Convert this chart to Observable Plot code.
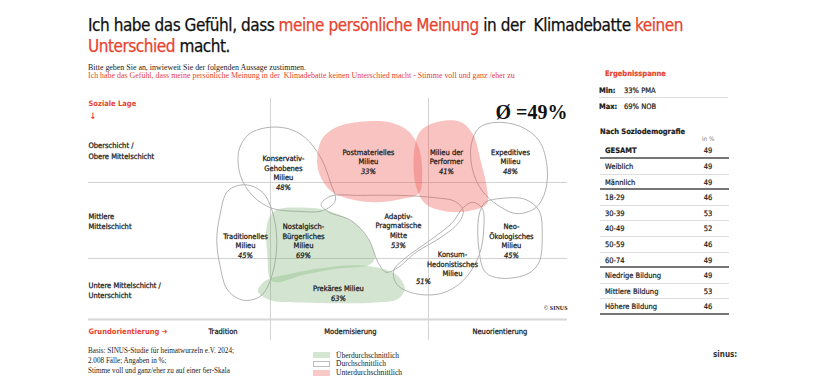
<!DOCTYPE html>
<html><head><meta charset="utf-8">
<script src="https://cdn.jsdelivr.net/npm/d3@7"></script>
<script src="https://cdn.jsdelivr.net/npm/@observablehq/plot@0.6"></script>
<style>
body{margin:0;background:#fff;}
#page{position:relative;width:820px;height:390px;overflow:hidden;font-family:"DejaVu Sans Condensed","DejaVu Sans",sans-serif;color:#1a1a1a;}
.abs{position:absolute;white-space:nowrap;}
.red{color:#e8432f;}
.serif{font-family:"Liberation Serif",serif;}
#title{left:88px;top:15px;font-size:17px;line-height:21px;color:#111;-webkit-text-stroke:0.25px currentColor;}
#sub1{left:88px;top:63px;font-size:7.6px;line-height:10px;}
#sub2{left:88px;top:71px;font-size:7.6px;line-height:10px;}
#chart{position:absolute;left:0;top:90px;}
#chart svg{background:transparent;overflow:visible;}
.lbl{font-size:7.5px;line-height:12px;-webkit-text-stroke:0.2px currentColor;}
.b{font-weight:bold;}
#tbl{position:absolute;left:600px;top:143.4px;width:129px;}
.row{position:relative;height:15.6px;box-sizing:border-box;border-bottom:1.5px solid #dedede;font-size:7.5px;-webkit-text-stroke:0.2px currentColor;}
.row.thick{border-bottom:2px solid #767676;}
.row .l{position:absolute;left:5px;top:0;line-height:15.6px;}
.row .v{position:absolute;left:98px;width:20px;text-align:center;top:0;line-height:15.6px;}
.foot{font-size:6.6px;line-height:10px;color:#222;}
.box{position:absolute;left:313px;width:17px;height:6px;box-sizing:border-box;}
</style></head>
<body><div id="page">
<div id="title" class="abs"><span id="t1">Ich habe das Gefühl, dass <span class="red">meine persönliche Meinung</span> in der&nbsp; Klimadebatte <span class="red">keinen</span></span><br><span class="red">Unterschied</span> macht.</div>
<div id="sub1" class="abs serif">Bitte geben Sie an, inwieweit Sie der folgenden Aussage zustimmen.</div>
<div id="sub2" class="abs serif red">Ich habe das Gefühl, dass meine persönliche Meinung in der&nbsp; Klimadebatte keinen Unterschied macht - Stimme voll und ganz /eher zu</div>
<div id="chart"></div>
<div class="abs lbl b red" style="left:605px;top:68px;">Ergebnisspanne</div>
<div class="abs lbl b" style="left:599px;top:85px;">Min:</div>
<div id="minv" class="abs lbl" style="left:624px;top:85px;"></div>
<div class="abs" style="left:599px;top:97px;width:129px;border-top:1.5px solid #dedede;"></div>
<div class="abs lbl b" style="left:599px;top:101px;">Max:</div>
<div id="maxv" class="abs lbl" style="left:624px;top:101px;"></div>
<div class="abs lbl b" style="left:600px;top:126px;">Nach Soziodemografie</div>
<div class="abs" style="left:702px;top:134px;font-size:6.3px;line-height:10px;color:#777;">in %</div>
<div id="tbl"></div>
<div id="foot" class="abs foot serif" style="left:88px;top:346px;">Basis: SINUS-Studie für heimatwurzeln e.V. 2024;<br>2.008 Fälle; Angaben in %;<br>Stimme voll und ganz/eher zu auf einer 6er-Skala</div>
<div class="box" style="top:352px;background:#d3e6d0;"></div>
<div class="box" style="top:360.5px;background:#fff;border:1px solid #bbb;"></div>
<div class="box" style="top:369.5px;background:#f8c9c7;"></div>
<div id="lg1" class="abs foot serif" style="left:336px;top:351px;">Überdurchschnittlich</div>
<div id="lg2" class="abs foot serif" style="left:336px;top:359px;">Durchschnittlich</div>
<div id="lg3" class="abs foot serif" style="left:336px;top:368px;">Unterdurchschnittlich</div>
<div class="abs b" style="left:713px;top:349px;font-size:8px;line-height:12px;color:#333;">sinus:</div>
</div>
<script>
// ---------- data ----------
const milieuCodes = ["KET","PMA","PER","EPE","TRA","NOB","AMP","NEO","KOH","PRE"];
const milieuNames = ["Konservativ-\nGehobenes\nMilieu","Postmaterielles\nMilieu","Milieu der\nPerformer","Expeditives\nMilieu","Traditionelles\nMilieu","Nostalgisch-\nBürgerliches\nMilieu","Adaptiv-\nPragmatische\nMitte","Neo-\nÖkologisches\nMilieu","Konsum-\nHedonistisches\nMilieu","Prekäres Milieu"];
const milieuValues = [48,33,41,48,45,69,53,45,51,63];
const milieuLevels = ["avg","below","below","avg","avg","above","avg","avg","avg","above"];
// label anchors in map units (x: Grundorientierung, y: soziale Lage)
const nameAnchors = [[1.082,2.0],[1.62,2.21],[2.114,2.21],[2.519,2.21],[0.842,1.105],[1.209,1.105],[1.81,1.24],[2.525,1.105],[2.152,0.737],[1.43,0.546]];
const pctAnchors  = [[1.082,2.0],[1.62,2.21],[2.114,2.21],[2.519,2.21],[0.842,1.105],[1.209,1.105],[1.81,1.24],[2.525,1.105],[1.968,0.77],[1.43,0.546]];
// milieu outlines in map units
const outlines = [
 [[0.80,2.42],[0.86,2.63],[0.97,2.72],[1.11,2.71],[1.22,2.59],[1.32,2.32],[1.38,2.00],[1.41,1.76],[1.33,1.63],[1.18,1.62],[1.01,1.66],[0.89,1.82],[0.81,2.09]],
 [[1.32,2.55],[1.41,2.72],[1.57,2.80],[1.76,2.79],[1.87,2.68],[1.94,2.45],[1.96,2.09],[1.94,1.86],[1.82,1.78],[1.66,1.74],[1.49,1.79],[1.38,1.89],[1.30,2.18]],
 [[1.91,2.42],[1.95,2.68],[2.06,2.80],[2.20,2.80],[2.28,2.64],[2.33,2.29],[2.37,1.92],[2.37,1.72],[2.27,1.63],[2.11,1.62],[1.98,1.72],[1.92,1.96]],
 [[2.27,2.49],[2.32,2.72],[2.42,2.79],[2.58,2.74],[2.70,2.55],[2.75,2.22],[2.74,1.89],[2.68,1.67],[2.56,1.59],[2.44,1.70],[2.34,1.89],[2.28,2.16]],
 [[0.68,1.57],[0.73,1.89],[0.84,1.97],[0.95,1.87],[1.01,1.63],[1.04,1.24],[1.01,0.78],[0.94,0.51],[0.83,0.45],[0.73,0.58],[0.68,0.91],[0.66,1.24]],
 [[0.98,1.47],[1.03,1.63],[1.19,1.67],[1.38,1.62],[1.54,1.45],[1.63,1.21],[1.66,1.00],[1.62,0.91],[1.44,0.87],[1.22,0.79],[1.01,0.70],[0.98,1.04]],
 [[1.32,1.71],[1.38,1.82],[1.57,1.83],[1.82,1.83],[2.04,1.80],[2.17,1.75],[2.22,1.63],[2.19,1.47],[2.08,1.28],[1.92,1.08],[1.80,0.87],[1.73,0.82],[1.68,0.95],[1.62,1.26],[1.51,1.50],[1.37,1.61]],
 [[2.32,1.57],[2.36,1.74],[2.46,1.79],[2.61,1.78],[2.70,1.63],[2.72,1.30],[2.70,0.95],[2.63,0.80],[2.46,0.74],[2.36,0.82],[2.32,1.11]],
 [[1.78,0.84],[1.85,1.00],[2.01,1.24],[2.15,1.47],[2.22,1.67],[2.28,1.74],[2.34,1.66],[2.35,1.39],[2.32,1.04],[2.22,0.71],[2.08,0.54],[1.91,0.54],[1.80,0.66]],
 [[0.92,0.57],[0.97,0.71],[1.13,0.80],[1.32,0.87],[1.51,0.91],[1.68,0.88],[1.80,0.78],[1.85,0.61],[1.81,0.47],[1.66,0.42],[1.44,0.41],[1.19,0.42],[1.00,0.45]]
];
const rowLabels = ["Oberschicht /\nObere Mittelschicht","Mittlere\nMittelschicht","Untere Mittelschicht /\nUnterschicht"];
const rowLabelY = [2.43,1.5,0.592];
const colLabels = ["Tradition","Modernisierung","Neuorientierung"];
const colLabelX = [0.70,1.506,2.452];
const rowBounds = [1,2];
const colBounds = [1,2];
const xDomain = [-0.152,2.88];
const yDomain = [0.197,3.145];

const demoLabels = ["GESAMT","Weiblich","Männlich","18-29","30-39","40-49","50-59","60-74","Niedrige Bildung","Mittlere Bildung","Höhere Bildung"];
const demoValues = [49,49,49,46,53,52,46,49,49,53,46];
const groupEnds = [0,2,7,10];

// ---------- build ----------
const RED = "#e8432f";
const INK = "#1a1a1a";
const thick = {stroke:INK,strokeWidth:0.25};
const pts = [];
outlines.forEach((o,i)=>o.forEach(([x,y])=>pts.push({code:milieuCodes[i],level:milieuLevels[i],x,y})));
const labels = milieuCodes.map((c,i)=>({name:milieuNames[i],pct:milieuValues[i]+"%",nx:nameAnchors[i][0],ny:nameAnchors[i][1],px:pctAnchors[i][0],py:pctAnchors[i][1]}));
const avg = demoValues[0];
const minI = milieuValues.indexOf(Math.min(...milieuValues));
const maxI = milieuValues.indexOf(Math.max(...milieuValues));
document.getElementById("minv").textContent = milieuValues[minI]+"% "+milieuCodes[minI];
document.getElementById("maxv").textContent = milieuValues[maxI]+"% "+milieuCodes[maxI];

const lineOpts = {x:"x",y:"y",z:"code",curve:"catmull-rom-closed"};
const chart = Plot.plot({
  width:820,height:260,
  marginLeft:88,marginRight:253,marginTop:5,marginBottom:31,
  x:{domain:xDomain,axis:null},
  y:{domain:yDomain,axis:null},
  style:{fontFamily:"'DejaVu Sans Condensed','DejaVu Sans',sans-serif",fontSize:"7.5px",background:"transparent",overflow:"visible",color:INK},
  marks:[
    Plot.ruleY(rowBounds,{stroke:"#d2d2d2",strokeWidth:1}),
    Plot.ruleY([yDomain[0]],{stroke:"#d6d6d6",strokeWidth:2}),
    Plot.ruleX(colBounds,{y1:-0.08,y2:3.105,stroke:"#d2d2d2",strokeWidth:1}),
    Plot.line(pts.filter(d=>d.level==="avg"),{...lineOpts,stroke:"#b3b3b3",strokeWidth:1,fill:"none"}),
    Plot.line(pts.filter(d=>d.level==="above"),{...lineOpts,stroke:"none",fill:"rgb(132,183,127)",fillOpacity:0.36}),
    Plot.line(pts.filter(d=>d.level==="below"),{...lineOpts,stroke:"none",fill:"rgb(236,88,82)",fillOpacity:0.36}),
    Plot.text(labels,{x:"nx",y:"ny",text:"name",lineAnchor:"bottom",lineHeight:1.27,dy:-2.3,fill:INK,...thick}),
    Plot.text(labels,{x:"px",y:"py",text:"pct",lineAnchor:"top",dy:2.4,fontStyle:"italic",fill:INK,...thick}),
    Plot.text(rowLabels,{x:xDomain[0],y:(d,i)=>rowLabelY[i],text:d=>d,textAnchor:"start",lineAnchor:"middle",lineHeight:1.45,fill:INK,...thick}),
    Plot.text(colLabels,{x:(d,i)=>colLabelX[i],y:0.04,text:d=>d,fill:INK,...thick}),
    Plot.text(["Grundorientierung ➜"],{x:xDomain[0],y:0.04,text:d=>d,textAnchor:"start",fill:RED,fontWeight:"bold"}),
    Plot.text(["Soziale Lage"],{x:xDomain[0],y:3.04,text:d=>d,textAnchor:"start",fill:RED,fontWeight:"bold"}),
    Plot.text(["↓"],{x:xDomain[0],y:2.87,text:d=>d,textAnchor:"start",dx:1,fill:RED,fontWeight:"bold",fontSize:9}),
    Plot.text([`Ø =${avg}%`],{x:xDomain[1],y:2.92,text:d=>d,textAnchor:"end",fontSize:20,fontWeight:"bold",fontFamily:"'Liberation Serif',serif",fill:"#111"}),
    Plot.text(["© SINUS"],{x:xDomain[1],y:0.342,text:d=>d,textAnchor:"end",fontSize:6,fontWeight:"bold",fontFamily:"'Liberation Serif',serif",fill:"#222"})
  ]
});
document.getElementById("chart").appendChild(chart);

const tbl = document.getElementById("tbl");
demoLabels.forEach((l,i)=>{
  const r = document.createElement("div");
  r.className = "row"+(groupEnds.includes(i)?" thick":"");
  r.innerHTML = `<span class="l${i===0?" b":""}">${l}</span><span class="v">${demoValues[i]}</span>`;
  tbl.appendChild(r);
});

// fit texts to the widths measured on the reference
const t1 = document.getElementById("t1");
const w = t1.getBoundingClientRect().width;
document.getElementById("title").style.letterSpacing = ((595 - w)/t1.textContent.length).toFixed(3)+"px";
function fitSize(id, target){
  const el = document.getElementById(id);
  const wd = el.getBoundingClientRect().width;
  const fs = parseFloat(getComputedStyle(el).fontSize);
  el.style.fontSize = (fs*target/wd).toFixed(2)+"px";
}
fitSize("sub1",218); fitSize("sub2",427); fitSize("foot",146);
fitSize("lg1",63); fitSize("lg2",50); fitSize("lg3",66);
</script>
</body></html>
